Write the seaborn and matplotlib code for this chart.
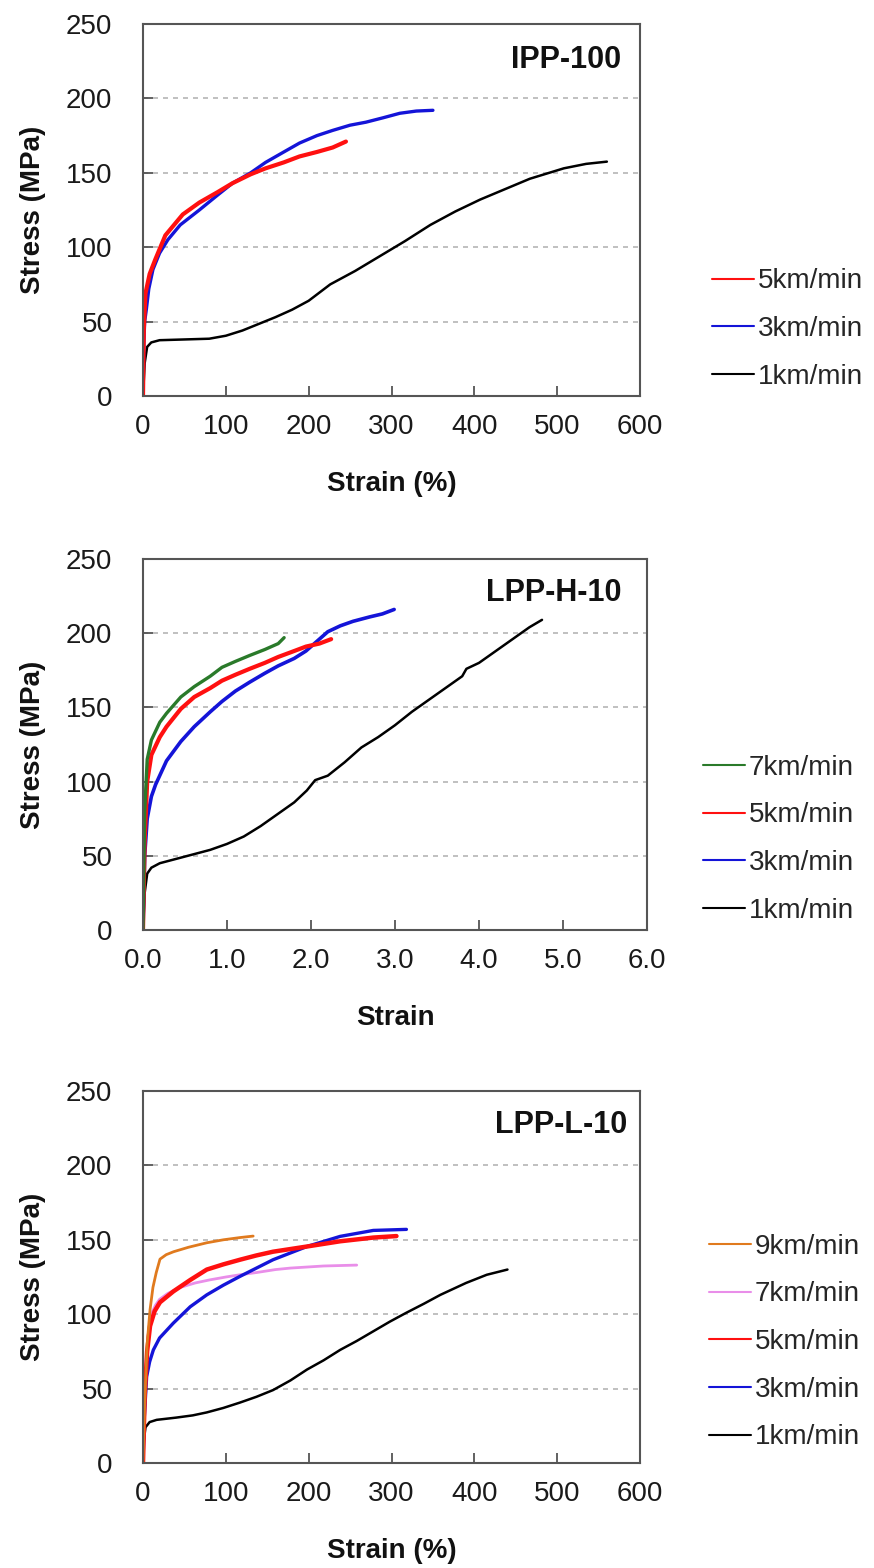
import numpy as np
import pandas as pd
import matplotlib
matplotlib.use("Agg")
import matplotlib.pyplot as plt
import seaborn as sns

sns.set_theme(style="white")
plt.rcParams['font.family'] = ['Liberation Sans', 'DejaVu Sans']

# ---------------- data ----------------
# Panel 1: IPP-100, strain in %
ipp_1_x = [0, 2, 5, 10, 20, 50, 80, 100, 120, 140, 160, 180, 200, 226, 256, 286, 316, 347, 377, 407, 437, 467, 508, 535, 560]
ipp_1_y = [0, 22, 33, 36, 37.5, 38, 38.5, 40.5, 44, 48.5, 53, 58, 64, 75, 84, 94, 104, 115, 124, 132, 139, 146, 153, 156, 157.5]
ipp_3_x = [0, 1, 2, 4, 7, 12, 20, 30, 45, 68, 90, 108, 130, 148, 170, 189, 210, 229, 250, 269, 290, 310, 330, 350]
ipp_3_y = [0, 35, 50, 58, 72, 85, 96, 105, 115, 125, 135, 143, 150, 157, 164, 170, 175, 178.5, 182, 184, 187, 190, 191.5, 192]
ipp_5_x = [0, 1, 3, 8, 15, 27, 48, 68, 90, 108, 130, 148, 170, 189, 210, 229, 245]
ipp_5_y = [0, 45, 69, 82, 92, 108, 122, 130, 137, 143, 149, 153, 157, 161, 164, 167, 171]

# Panel 2: LPP-H-10, strain (ratio)
lh_1_x = [0, 0.02, 0.05, 0.1, 0.2, 0.4, 0.6, 0.8, 1.0, 1.2, 1.4, 1.6, 1.8, 1.95, 2.05, 2.2, 2.4, 2.6, 2.8, 3.0, 3.2, 3.4, 3.6, 3.8, 3.85, 4.0, 4.2, 4.4, 4.6, 4.75]
lh_1_y = [0, 25, 38, 42, 45, 48, 51, 54, 58, 63, 70, 78, 86, 94, 101, 104, 113, 123, 130, 138, 147, 155, 163, 171, 176, 180, 188, 196, 204, 209]
lh_3_x = [0, 0.02, 0.05, 0.1, 0.15, 0.28, 0.45, 0.61, 0.8, 0.94, 1.1, 1.27, 1.45, 1.61, 1.8, 1.94, 2.1, 2.2, 2.35, 2.5, 2.7, 2.85, 2.99]
lh_3_y = [0, 50, 75, 90, 98, 114, 127, 137, 147, 154, 161, 167, 173, 178, 183, 188, 196, 201, 205, 208, 211, 213, 216]
lh_5_x = [0, 0.02, 0.05, 0.1, 0.2, 0.28, 0.45, 0.61, 0.8, 0.94, 1.1, 1.27, 1.45, 1.61, 1.8, 1.94, 2.1, 2.24]
lh_5_y = [0, 60, 100, 118, 130, 137, 149, 157, 163, 168, 172, 176, 180, 184, 188, 191, 193, 196]
lh_7_x = [0, 0.02, 0.05, 0.1, 0.2, 0.28, 0.45, 0.61, 0.8, 0.94, 1.1, 1.27, 1.45, 1.61, 1.68]
lh_7_y = [0, 80, 115, 128, 140, 146, 157, 164, 171, 177, 181, 185, 189, 193, 197]

# Panel 3: LPP-L-10, strain in %
ll_1_x = [0, 1, 3, 8, 16.5, 40, 60, 77, 97, 117, 137, 157, 178, 198, 218, 238, 258, 278, 298, 318, 339, 359, 390, 415, 440]
ll_1_y = [0, 15, 24, 27.5, 29, 30.5, 32, 34, 37, 40.6, 44.5, 49, 55.5, 62.8, 69, 76, 82, 88.5, 95, 101, 107, 113, 121, 126.5, 130]
ll_3_x = [0, 1.5, 4.4, 8, 12.5, 20, 36.6, 57, 77, 97, 117, 137, 157, 198, 238, 278, 318]
ll_3_y = [0, 30, 58, 68, 76, 84, 94, 105, 113, 119.5, 125.4, 131, 136.6, 145.5, 152.3, 156.3, 157]
ll_5_x = [0, 2, 5, 8.5, 14, 20.5, 36.6, 57, 77, 97, 117, 137, 157, 198, 238, 278, 306]
ll_5_y = [0, 45, 75, 92, 102, 108, 115.3, 123, 130, 133.5, 136.6, 139.5, 142, 145.5, 149, 151.5, 152.5]
ll_7_x = [0, 3, 6, 10, 15, 20, 30, 45, 63, 80, 100, 117, 137, 160, 178, 218, 258]
ll_7_y = [0, 50, 85, 100, 106, 110, 114, 118, 121, 123, 125, 126.5, 128, 130, 131, 132.4, 133]
ll_9_x = [0, 2, 5, 8.5, 12, 16, 20.5, 28, 37, 55, 77, 97, 117, 133]
ll_9_y = [0, 40, 80, 103, 118, 128, 137, 140, 142, 145, 148, 150, 151.5, 152.5]

titles = ["IPP-100", "LPP-H-10", "LPP-L-10"]
xlabels = ["Strain (%)", "Strain", "Strain (%)"]
ylabel = "Stress (MPa)"
ipp_xticks = [0, 100, 200, 300, 400, 500, 600]
lh_xticks = [0.0, 1.0, 2.0, 3.0, 4.0, 5.0, 6.0]
yticks = [0, 50, 100, 150, 200, 250]

COL = {"1": "#000000", "3": "#1414d8", "5": "#ff1010", "7": "#2a7a2a", "9": "#e07a1e"}
PINK = "#e98ee9"

panels = [
    dict(title=titles[0], xlabel=xlabels[0], xticks=ipp_xticks, fmt="{:.0f}",
         series=[("1km/min", ipp_1_x, ipp_1_y, COL["1"], 1.8),
                 ("3km/min", ipp_3_x, ipp_3_y, COL["3"], 2.4),
                 ("5km/min", ipp_5_x, ipp_5_y, COL["5"], 3.0)],
         rect=[143/874, 1 - 396/1568, 497/874, 372/1568],
         title_pos=(0.962, 0.903), leg=(1.145, 0.18)),
    dict(title=titles[1], xlabel=xlabels[1], xticks=lh_xticks, fmt="{:.1f}",
         series=[("1km/min", lh_1_x, lh_1_y, COL["1"], 1.8),
                 ("3km/min", lh_3_x, lh_3_y, COL["3"], 2.6),
                 ("5km/min", lh_5_x, lh_5_y, COL["5"], 3.0),
                 ("7km/min", lh_7_x, lh_7_y, COL["7"], 2.4)],
         rect=[143/874, 1 - 930/1568, 504/874, 371/1568],
         title_pos=(0.949, 0.908), leg=(1.111, 0.245)),
    dict(title=titles[2], xlabel=xlabels[2], xticks=ipp_xticks, fmt="{:.0f}",
         series=[("1km/min", ll_1_x, ll_1_y, COL["1"], 1.8),
                 ("7km/min", ll_7_x, ll_7_y, PINK, 2.0),
                 ("3km/min", ll_3_x, ll_3_y, COL["3"], 2.4),
                 ("5km/min", ll_5_x, ll_5_y, COL["5"], 3.2),
                 ("9km/min", ll_9_x, ll_9_y, COL["9"], 2.0)],
         legend_order=["9km/min", "7km/min", "5km/min", "3km/min", "1km/min"],
         rect=[143/874, 1 - 1463/1568, 497/874, 372/1568],
         title_pos=(0.974, 0.908), leg=(1.139, 0.325)),
]

fig = plt.figure(figsize=(8.74, 15.68), dpi=100)
FS = 20

for p in panels:
    ax = fig.add_axes(p["rect"])
    for lab, xs, ys, c, lw in p["series"]:
        df = pd.DataFrame({"x": xs, "y": ys})
        sns.lineplot(data=df, x="x", y="y", color=c, lw=lw, ax=ax, label=lab,
                     sort=False, estimator=None)
    xt = p["xticks"]
    ax.set_xlim(xt[0], xt[-1])
    ax.set_ylim(0, 250)
    ax.set_xticks(xt)
    ax.set_xticklabels([p["fmt"].format(v) for v in xt])
    ax.set_yticks(yticks)
    ax.set_yticklabels([str(v) for v in yticks])
    ax.yaxis.grid(True, ls=(0, (3, 3)), color="#b5b5b5", lw=1.2)
    ax.xaxis.grid(False)
    for s in ax.spines.values():
        s.set_color("#555555")
        s.set_linewidth(1.5)
    ax.tick_params(axis="both", direction="in", length=7, width=1.3, color="#555555",
                   labelsize=FS, labelcolor="#1a1a1a", bottom=True, left=True)
    ax.tick_params(axis="y", pad=22)
    ax.tick_params(axis="x", pad=13)
    ax.set_xlabel(p["xlabel"], fontsize=FS, fontweight="bold", labelpad=22, color="#111111")
    ax.set_ylabel(ylabel, fontsize=FS, fontweight="bold", labelpad=14, color="#111111")
    ax.text(p["title_pos"][0], p["title_pos"][1], p["title"], transform=ax.transAxes,
            ha="right", va="center", fontsize=22, fontweight="bold", color="#111111")
    h, l = ax.get_legend_handles_labels()
    order = p.get("legend_order", l[::-1])
    hm = dict(zip(l, h))
    leg = ax.legend([hm[k] for k in order], order, loc="center left", bbox_to_anchor=p["leg"],
                    frameon=False, fontsize=FS, handlelength=1.5, handletextpad=0.15,
                    labelspacing=0.78, borderpad=0, borderaxespad=0)
    for lh in leg.get_lines():
        lh.set_linewidth(1.5)

fig.savefig("out.png", dpi=100, facecolor="white")
